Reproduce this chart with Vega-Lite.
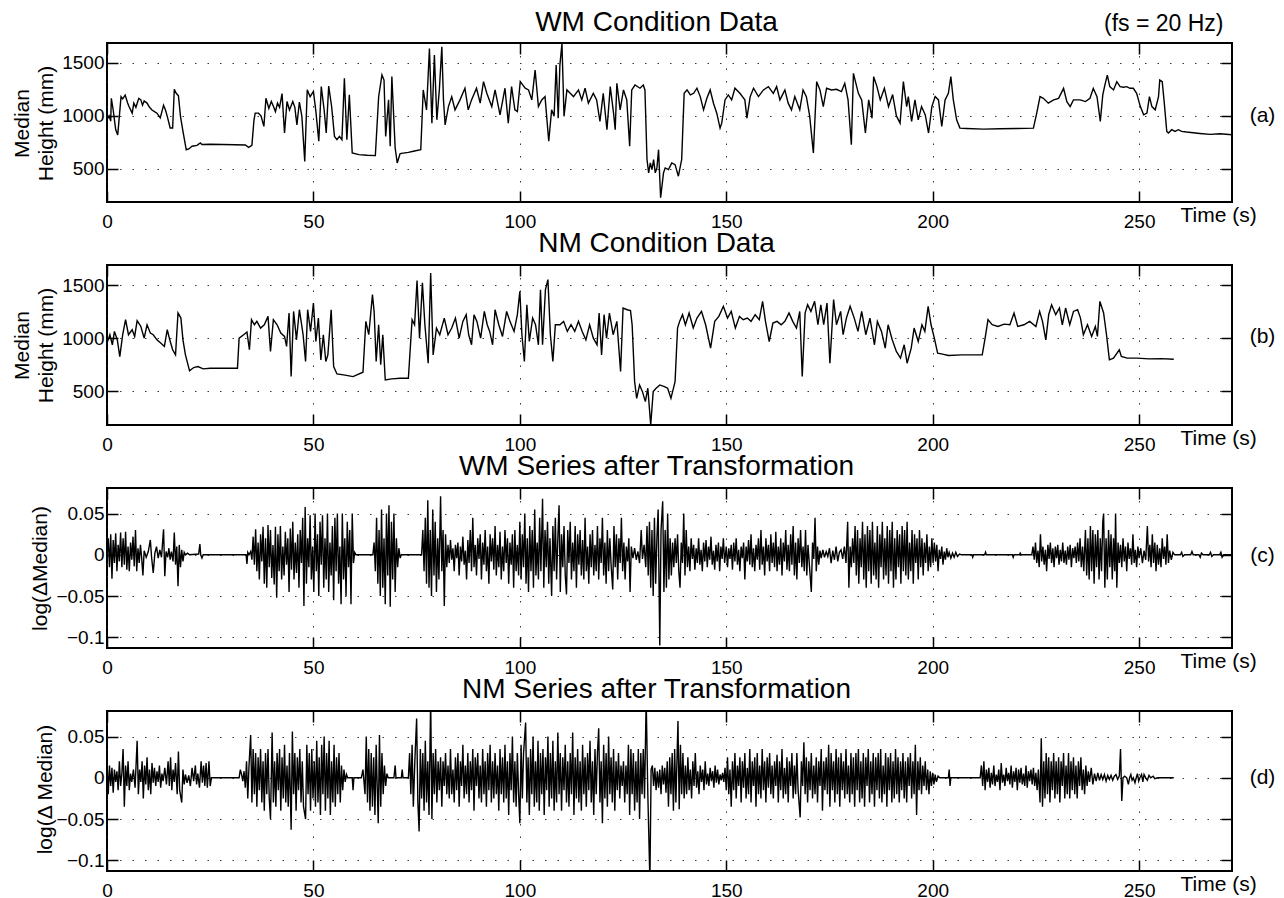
{
"$schema": "https://vega.github.io/schema/vega-lite/v6.json",
"padding": {"left": 9, "top": 8, "right": 5, "bottom": 5},
"spacing": 63,
"bounds": "flush",
"config": {
 "font": "Liberation Sans",
 "background": "white",
 "view": {"stroke": "black", "strokeWidth": 2},
 "axis": {"domain": false, "ticks": true, "tickSize": -11, "tickColor": "black", "tickWidth": 1.5, "labelColor": "black", "labelFontSize": 19, "titleColor": "black", "titleFontWeight": "normal", "gridColor": "#222", "gridDash": [1.5, 11], "gridWidth": 1, "gridOpacity": 0.9},
 "title": {"color": "black", "fontWeight": "normal", "fontSize": 28}
},
"datasets": {
"a": [{"t":0,"v":960},{"t":0.5,"v":1000},{"t":0.9,"v":950},{"t":1.05,"v":1165},{"t":1.5,"v":1055},{"t":2.1,"v":870},{"t":2.6,"v":820},{"t":3.4,"v":1180},{"t":3.8,"v":1160},{"t":4.4,"v":1195},{"t":5,"v":1120},{"t":5.3,"v":1090},{"t":6.1,"v":1025},{"t":6.5,"v":1120},{"t":7,"v":1080},{"t":7.7,"v":1165},{"t":8.2,"v":1150},{"t":8.6,"v":1100},{"t":9,"v":1140},{"t":9.7,"v":1120},{"t":10.3,"v":1080},{"t":10.9,"v":1055},{"t":11.5,"v":1040},{"t":12.1,"v":1025},{"t":12.9,"v":980},{"t":13.3,"v":1040},{"t":13.7,"v":1100},{"t":14.2,"v":1050},{"t":14.6,"v":995},{"t":15.3,"v":885},{"t":15.9,"v":885},{"t":16.3,"v":1250},{"t":16.8,"v":1210},{"t":17.3,"v":1190},{"t":17.8,"v":995},{"t":18.4,"v":853},{"t":19.2,"v":680},{"t":19.8,"v":688},{"t":20.6,"v":713},{"t":21.8,"v":722},{"t":22.6,"v":744},{"t":23,"v":730},{"t":25,"v":732},{"t":28,"v":730},{"t":31,"v":728},{"t":33.5,"v":725},{"t":34.3,"v":703},{"t":35.1,"v":722},{"t":35.6,"v":960},{"t":35.9,"v":1025},{"t":36.7,"v":1025},{"t":37.3,"v":1000},{"t":38,"v":900},{"t":38.5,"v":1165},{"t":39.2,"v":1070},{"t":39.8,"v":1135},{"t":40.3,"v":1090},{"t":40.8,"v":1040},{"t":41.3,"v":1120},{"t":41.8,"v":1080},{"t":42.4,"v":1210},{"t":43,"v":838},{"t":43.6,"v":1135},{"t":44.2,"v":1055},{"t":45,"v":1135},{"t":45.5,"v":1080},{"t":46,"v":915},{"t":46.6,"v":1130},{"t":47.2,"v":995},{"t":47.9,"v":570},{"t":48.5,"v":1245},{"t":49.2,"v":1180},{"t":50,"v":1230},{"t":50.6,"v":1040},{"t":51.3,"v":760},{"t":51.9,"v":1275},{"t":52.6,"v":1055},{"t":53.1,"v":838},{"t":53.7,"v":1280},{"t":54.4,"v":1090},{"t":55.1,"v":806},{"t":55.7,"v":775},{"t":56.3,"v":806},{"t":56.9,"v":775},{"t":57.5,"v":1353},{"t":58.1,"v":775},{"t":58.7,"v":1197},{"t":59.4,"v":650},{"t":61,"v":634},{"t":63,"v":628},{"t":65,"v":625},{"t":65.8,"v":1180},{"t":66.6,"v":1385},{"t":67.1,"v":1337},{"t":67.5,"v":806},{"t":68.2,"v":1150},{"t":68.6,"v":713},{"t":69,"v":1370},{"t":69.8,"v":697},{"t":70.3,"v":556},{"t":71,"v":644},{"t":73,"v":656},{"t":74.2,"v":666},{"t":76,"v":681},{"t":76.6,"v":1244},{"t":77.4,"v":1056},{"t":78.1,"v":1634},{"t":78.7,"v":931},{"t":79.3,"v":1572},{"t":79.9,"v":962},{"t":80.5,"v":1244},{"t":81.1,"v":1650},{"t":81.5,"v":1150},{"t":81.9,"v":915},{"t":82.7,"v":1087},{"t":83.5,"v":1180},{"t":84.3,"v":1056},{"t":85.5,"v":1150},{"t":86.7,"v":1260},{"t":87.5,"v":1056},{"t":88.3,"v":1150},{"t":89.5,"v":1260},{"t":90.4,"v":1119},{"t":91.2,"v":1322},{"t":92,"v":1212},{"t":93.2,"v":1087},{"t":94,"v":1244},{"t":95.2,"v":1009},{"t":96.4,"v":1260},{"t":97.2,"v":931},{"t":98,"v":1275},{"t":98.8,"v":1056},{"t":99.4,"v":1040},{"t":100.1,"v":1322},{"t":101.3,"v":1260},{"t":102.1,"v":1244},{"t":102.9,"v":1150},{"t":103.7,"v":1431},{"t":104.5,"v":1087},{"t":105.3,"v":1150},{"t":106.1,"v":1181},{"t":107,"v":760},{"t":107.7,"v":1056},{"t":108.3,"v":995},{"t":108.8,"v":1478},{"t":109.3,"v":978},{"t":109.7,"v":1478},{"t":110.2,"v":1681},{"t":110.7,"v":995},{"t":111.4,"v":1244},{"t":112.2,"v":1212},{"t":113,"v":1181},{"t":114.2,"v":1244},{"t":115,"v":1150},{"t":115.8,"v":1260},{"t":116.6,"v":1119},{"t":117.8,"v":1212},{"t":118.6,"v":1150},{"t":119.4,"v":947},{"t":120.2,"v":1212},{"t":121.1,"v":869},{"t":121.9,"v":1275},{"t":122.7,"v":1025},{"t":123.1,"v":869},{"t":123.5,"v":1306},{"t":124.3,"v":1056},{"t":125.1,"v":1244},{"t":125.9,"v":1150},{"t":126.6,"v":713},{"t":127.1,"v":1244},{"t":127.9,"v":1290},{"t":129.1,"v":1260},{"t":129.9,"v":1290},{"t":130.3,"v":1244},{"t":130.8,"v":588},{"t":131.2,"v":463},{"t":131.6,"v":556},{"t":132,"v":494},{"t":132.4,"v":588},{"t":132.8,"v":463},{"t":133.2,"v":509},{"t":133.6,"v":681},{"t":134.1,"v":228},{"t":134.8,"v":463},{"t":135.2,"v":509},{"t":136,"v":494},{"t":136.8,"v":556},{"t":137.6,"v":540},{"t":138.4,"v":431},{"t":139.2,"v":588},{"t":139.8,"v":1212},{"t":140.5,"v":1244},{"t":141.3,"v":1197},{"t":142.1,"v":1212},{"t":142.9,"v":1260},{"t":143.7,"v":1181},{"t":144.5,"v":1056},{"t":145.3,"v":1165},{"t":146.1,"v":1244},{"t":146.9,"v":1119},{"t":147.7,"v":1025},{"t":148.5,"v":884},{"t":148.9,"v":931},{"t":149.7,"v":1150},{"t":150.5,"v":1197},{"t":151.3,"v":1150},{"t":152.1,"v":1260},{"t":153.3,"v":1212},{"t":154.5,"v":1150},{"t":155,"v":978},{"t":155.8,"v":1181},{"t":156.6,"v":1260},{"t":157.8,"v":1181},{"t":159,"v":1244},{"t":160.2,"v":1275},{"t":161.4,"v":1212},{"t":162.2,"v":1275},{"t":163,"v":1150},{"t":164.2,"v":1244},{"t":165,"v":1119},{"t":165.8,"v":1056},{"t":166.6,"v":1181},{"t":167.8,"v":1056},{"t":168.6,"v":1244},{"t":169.4,"v":1181},{"t":170.2,"v":1000},{"t":171.1,"v":650},{"t":171.9,"v":1322},{"t":172.7,"v":1244},{"t":173.5,"v":1087},{"t":174.3,"v":1260},{"t":175.5,"v":1244},{"t":176.7,"v":1250},{"t":177.9,"v":1228},{"t":178.7,"v":1306},{"t":179.5,"v":1150},{"t":180.3,"v":728},{"t":180.8,"v":1400},{"t":182,"v":1212},{"t":182.8,"v":1150},{"t":183.7,"v":838},{"t":184.5,"v":1150},{"t":185.3,"v":978},{"t":185.7,"v":1369},{"t":186.5,"v":1275},{"t":187.3,"v":1150},{"t":188.3,"v":1260},{"t":189.3,"v":1087},{"t":190.3,"v":1200},{"t":191.2,"v":1000},{"t":192.1,"v":931},{"t":192.9,"v":1322},{"t":193.7,"v":1087},{"t":194.1,"v":1181},{"t":194.9,"v":947},{"t":195.7,"v":1150},{"t":196.5,"v":962},{"t":197.3,"v":1087},{"t":198.2,"v":1009},{"t":199,"v":838},{"t":199.8,"v":1087},{"t":200.6,"v":1181},{"t":201.4,"v":1150},{"t":202.2,"v":900},{"t":203,"v":1150},{"t":203.8,"v":1212},{"t":204.4,"v":1369},{"t":205,"v":1150},{"t":205.8,"v":962},{"t":206.6,"v":884},{"t":208.2,"v":881},{"t":212.3,"v":875},{"t":216.3,"v":878},{"t":220.4,"v":881},{"t":224.4,"v":884},{"t":225.2,"v":1025},{"t":226,"v":1181},{"t":226.8,"v":1165},{"t":228,"v":1119},{"t":229.3,"v":1150},{"t":230.5,"v":1165},{"t":231.7,"v":1259},{"t":232.5,"v":1134},{"t":233.3,"v":1087},{"t":234.1,"v":1150},{"t":235.7,"v":1150},{"t":237,"v":1134},{"t":238.1,"v":1165},{"t":238.9,"v":1259},{"t":239.8,"v":1181},{"t":240.6,"v":947},{"t":241.2,"v":1197},{"t":241.8,"v":1306},{"t":242.3,"v":1384},{"t":242.9,"v":1275},{"t":243.8,"v":1244},{"t":244.6,"v":1322},{"t":245.4,"v":1275},{"t":246.2,"v":1269},{"t":247,"v":1275},{"t":247.8,"v":1259},{"t":248.6,"v":1259},{"t":249.4,"v":1212},{"t":250.3,"v":1087},{"t":251.1,"v":1009},{"t":251.9,"v":1025},{"t":252.5,"v":1181},{"t":253.1,"v":1087},{"t":253.9,"v":1056},{"t":254.7,"v":1181},{"t":255,"v":1337},{"t":255.6,"v":1322},{"t":256.1,"v":1119},{"t":256.7,"v":853},{"t":257.1,"v":838},{"t":257.9,"v":869},{"t":258.7,"v":853},{"t":259.5,"v":869},{"t":260.3,"v":853},{"t":261.5,"v":847},{"t":263.1,"v":841},{"t":264.7,"v":834},{"t":267.2,"v":825},{"t":269.6,"v":831},{"t":272.5,"v":822}],
"b": [{"t":0,"v":953},{"t":0.7,"v":1032},{"t":1.3,"v":937},{"t":1.8,"v":1063},{"t":2.5,"v":984},{"t":3.1,"v":826},{"t":3.8,"v":1032},{"t":4.5,"v":1174},{"t":5.2,"v":1032},{"t":6.1,"v":1079},{"t":6.7,"v":1016},{"t":7.3,"v":1164},{"t":8.2,"v":1110},{"t":9,"v":1000},{"t":9.7,"v":1126},{"t":10.5,"v":1048},{"t":11.2,"v":1032},{"t":12.1,"v":984},{"t":13,"v":953},{"t":13.9,"v":921},{"t":14.6,"v":1079},{"t":15.2,"v":984},{"t":15.9,"v":890},{"t":16.6,"v":842},{"t":17.2,"v":1237},{"t":17.9,"v":1189},{"t":18.4,"v":984},{"t":19,"v":842},{"t":20,"v":691},{"t":21,"v":722},{"t":22,"v":732},{"t":23.3,"v":710},{"t":25,"v":716},{"t":28,"v":716},{"t":31.6,"v":716},{"t":32,"v":1000},{"t":33.1,"v":1032},{"t":33.9,"v":1057},{"t":34.5,"v":890},{"t":35,"v":1174},{"t":35.7,"v":1126},{"t":36.3,"v":1158},{"t":37.2,"v":1095},{"t":38.1,"v":1126},{"t":39,"v":1205},{"t":39.6,"v":874},{"t":40.3,"v":1174},{"t":41.2,"v":1126},{"t":42.1,"v":1048},{"t":43,"v":1016},{"t":43.5,"v":921},{"t":44.1,"v":1237},{"t":44.6,"v":637},{"t":45.2,"v":1252},{"t":45.9,"v":984},{"t":46.6,"v":1268},{"t":47.5,"v":1032},{"t":48.1,"v":779},{"t":48.6,"v":1268},{"t":49.3,"v":1063},{"t":50,"v":1331},{"t":50.6,"v":968},{"t":51.2,"v":1189},{"t":51.8,"v":795},{"t":52.4,"v":1032},{"t":53,"v":779},{"t":53.5,"v":842},{"t":54.3,"v":1268},{"t":54.9,"v":732},{"t":55.7,"v":662},{"t":57.3,"v":653},{"t":59.6,"v":637},{"t":62,"v":678},{"t":62.7,"v":1158},{"t":63.4,"v":1032},{"t":64.3,"v":1410},{"t":64.7,"v":1252},{"t":65.2,"v":779},{"t":65.8,"v":1126},{"t":66.3,"v":748},{"t":66.8,"v":1032},{"t":67.4,"v":606},{"t":69,"v":615},{"t":71,"v":621},{"t":73,"v":621},{"t":73.9,"v":1174},{"t":74.5,"v":1126},{"t":75.1,"v":1543},{"t":75.7,"v":1000},{"t":76.4,"v":1521},{"t":77,"v":1126},{"t":77.8,"v":763},{"t":78.4,"v":1615},{"t":79,"v":842},{"t":79.8,"v":1095},{"t":80.6,"v":1032},{"t":81.7,"v":1189},{"t":82.6,"v":1032},{"t":83.5,"v":1095},{"t":84.4,"v":1189},{"t":85.3,"v":1000},{"t":86.2,"v":1158},{"t":87,"v":1221},{"t":87.6,"v":1032},{"t":88.3,"v":937},{"t":88.9,"v":1221},{"t":89.6,"v":1158},{"t":90.5,"v":1000},{"t":91.4,"v":1252},{"t":92.1,"v":1126},{"t":92.7,"v":1063},{"t":93.4,"v":937},{"t":94,"v":1268},{"t":94.9,"v":1126},{"t":95.8,"v":1016},{"t":96.8,"v":1252},{"t":97.6,"v":1158},{"t":98.6,"v":1063},{"t":99.4,"v":1221},{"t":100,"v":1442},{"t":100.5,"v":1032},{"t":101.1,"v":779},{"t":101.7,"v":1315},{"t":102.3,"v":968},{"t":103.1,"v":1189},{"t":103.8,"v":1126},{"t":104.5,"v":937},{"t":105,"v":1457},{"t":105.5,"v":937},{"t":106.2,"v":1457},{"t":106.8,"v":1552},{"t":107.4,"v":1032},{"t":108,"v":779},{"t":108.6,"v":1126},{"t":109.7,"v":1126},{"t":110.6,"v":1158},{"t":111.5,"v":1063},{"t":112.4,"v":1126},{"t":113.3,"v":1063},{"t":114.2,"v":1158},{"t":115.1,"v":1063},{"t":116,"v":984},{"t":116.9,"v":1126},{"t":117.8,"v":1000},{"t":118.7,"v":937},{"t":119.2,"v":1237},{"t":119.8,"v":842},{"t":120.4,"v":1221},{"t":121,"v":1000},{"t":121.7,"v":1237},{"t":122.6,"v":1032},{"t":123.5,"v":1158},{"t":124.4,"v":685},{"t":125,"v":1284},{"t":126,"v":1268},{"t":126.8,"v":1260},{"t":127.2,"v":1126},{"t":127.8,"v":590},{"t":128.3,"v":432},{"t":129,"v":558},{"t":129.7,"v":495},{"t":130.4,"v":401},{"t":131,"v":527},{"t":131.7,"v":180},{"t":132.3,"v":495},{"t":133,"v":527},{"t":133.9,"v":558},{"t":135,"v":543},{"t":135.8,"v":527},{"t":136.6,"v":432},{"t":137.6,"v":590},{"t":138.2,"v":1095},{"t":138.7,"v":1158},{"t":139.4,"v":1221},{"t":140.1,"v":1126},{"t":141,"v":1237},{"t":142,"v":1095},{"t":142.9,"v":1189},{"t":144,"v":1252},{"t":145,"v":1126},{"t":146.2,"v":905},{"t":147.2,"v":1158},{"t":148.2,"v":1205},{"t":149.3,"v":1300},{"t":150.3,"v":1189},{"t":151.2,"v":1252},{"t":152.2,"v":1095},{"t":153.2,"v":1205},{"t":154.1,"v":1174},{"t":155.1,"v":1189},{"t":156,"v":1158},{"t":157,"v":1221},{"t":158,"v":1174},{"t":158.8,"v":1347},{"t":159.5,"v":1158},{"t":160.4,"v":968},{"t":161.3,"v":1142},{"t":162.3,"v":1158},{"t":163.3,"v":1126},{"t":164.2,"v":1158},{"t":165.2,"v":1237},{"t":166.1,"v":1158},{"t":167,"v":1095},{"t":167.8,"v":1252},{"t":168.4,"v":637},{"t":169.1,"v":1237},{"t":169.7,"v":1315},{"t":170.5,"v":1252},{"t":171.4,"v":1347},{"t":172.2,"v":1126},{"t":172.9,"v":1315},{"t":173.6,"v":1126},{"t":174.4,"v":1331},{"t":175.1,"v":763},{"t":176,"v":1363},{"t":176.7,"v":1126},{"t":177.7,"v":1252},{"t":178.3,"v":1032},{"t":179.1,"v":1189},{"t":180,"v":1300},{"t":181,"v":1189},{"t":181.9,"v":1063},{"t":182.8,"v":1252},{"t":183.8,"v":1032},{"t":184.8,"v":1189},{"t":185.9,"v":937},{"t":186.6,"v":1158},{"t":187.6,"v":1063},{"t":188.5,"v":905},{"t":189.2,"v":1126},{"t":190.2,"v":984},{"t":191.2,"v":874},{"t":192.2,"v":811},{"t":193.1,"v":937},{"t":193.8,"v":763},{"t":194.8,"v":905},{"t":195.5,"v":1095},{"t":196.5,"v":968},{"t":197.4,"v":1126},{"t":198.1,"v":1063},{"t":198.9,"v":1300},{"t":199.6,"v":1126},{"t":200.4,"v":1000},{"t":201.2,"v":858},{"t":202.4,"v":849},{"t":203.8,"v":836},{"t":207,"v":842},{"t":212,"v":842},{"t":212.7,"v":1000},{"t":213.4,"v":1174},{"t":214.4,"v":1126},{"t":215.8,"v":1110},{"t":217.3,"v":1132},{"t":218.7,"v":1126},{"t":219.7,"v":1237},{"t":220.6,"v":1110},{"t":222.1,"v":1126},{"t":223.5,"v":1158},{"t":225,"v":1110},{"t":225.9,"v":1252},{"t":226.6,"v":1158},{"t":227.4,"v":984},{"t":228.1,"v":1221},{"t":228.8,"v":1315},{"t":229.8,"v":1221},{"t":230.7,"v":1284},{"t":231.4,"v":1126},{"t":232.2,"v":1284},{"t":233.2,"v":1126},{"t":234.1,"v":1252},{"t":235.1,"v":1268},{"t":235.8,"v":1189},{"t":236.5,"v":1032},{"t":237.5,"v":1126},{"t":238.5,"v":1016},{"t":239.4,"v":1110},{"t":239.9,"v":1016},{"t":240.5,"v":1347},{"t":241.4,"v":1237},{"t":242.1,"v":1032},{"t":242.8,"v":795},{"t":243.8,"v":811},{"t":245.2,"v":890},{"t":245.7,"v":827},{"t":247.1,"v":811},{"t":249.5,"v":811},{"t":252.4,"v":804},{"t":255.4,"v":806},{"t":258.4,"v":801}],
"c": [{"t":0,"v":0},{"t":0.3,"v":0.02},{"t":0.6,"v":-0.015},{"t":0.9,"v":0.025},{"t":1.2,"v":-0.029},{"t":1.5,"v":0.018},{"t":1.8,"v":-0.01},{"t":2.1,"v":0.026},{"t":2.4,"v":-0.02},{"t":2.7,"v":0.012},{"t":3,"v":-0.008},{"t":3.3,"v":0.027},{"t":3.6,"v":-0.015},{"t":3.9,"v":0.02},{"t":4.2,"v":-0.012},{"t":4.5,"v":0.028},{"t":4.8,"v":-0.018},{"t":5.1,"v":0.01},{"t":5.4,"v":-0.02},{"t":5.7,"v":0.015},{"t":6,"v":-0.006},{"t":6.3,"v":0.022},{"t":6.6,"v":-0.014},{"t":6.9,"v":0.03},{"t":7.2,"v":-0.02},{"t":7.5,"v":0.008},{"t":7.8,"v":-0.01},{"t":8.1,"v":0.012},{"t":8.4,"v":-0.004},{"t":8.7,"v":-0.025},{"t":9,"v":0.005},{"t":9.5,"v":-0.003},{"t":10,"v":0.004},{"t":10.5,"v":0.018},{"t":10.8,"v":-0.003},{"t":11.2,"v":-0.022},{"t":11.6,"v":0.002},{"t":12,"v":0.01},{"t":12.4,"v":-0.004},{"t":12.8,"v":0.006},{"t":13.2,"v":-0.003},{"t":13.7,"v":0.031},{"t":14,"v":-0.026},{"t":14.3,"v":0.004},{"t":14.7,"v":-0.003},{"t":15,"v":0.008},{"t":15.3,"v":-0.006},{"t":15.6,"v":0.004},{"t":16,"v":-0.008},{"t":16.3,"v":0.027},{"t":16.6,"v":-0.012},{"t":16.9,"v":0.01},{"t":17.2,"v":-0.038},{"t":17.5,"v":0.012},{"t":17.8,"v":-0.015},{"t":18.1,"v":0.006},{"t":18.4,"v":-0.008},{"t":18.7,"v":0.003},{"t":19,"v":0},{"t":19.5,"v":0.002},{"t":20,"v":0},{"t":22.2,"v":0.001},{"t":22.5,"v":0.013},{"t":22.7,"v":0},{"t":23,"v":-0.004},{"t":23.3,"v":0},{"t":33.7,"v":0},{"t":33.9,"v":-0.011},{"t":34.1,"v":0.003},{"t":34.4,"v":0},{"t":34.8,"v":0.004},{"t":35.1,"v":-0.006},{"t":35.4,"v":0.022},{"t":35.7,"v":-0.012},{"t":36,"v":0.031},{"t":36.3,"v":-0.02},{"t":36.6,"v":0.015},{"t":36.9,"v":-0.03},{"t":37.2,"v":0.025},{"t":37.5,"v":-0.008},{"t":37.8,"v":0.034},{"t":38.1,"v":-0.035},{"t":38.4,"v":0.02},{"t":38.7,"v":-0.04},{"t":39,"v":0.036},{"t":39.3,"v":-0.015},{"t":39.6,"v":0.03},{"t":39.9,"v":-0.028},{"t":40.2,"v":0.012},{"t":40.5,"v":-0.036},{"t":40.8,"v":0.034},{"t":41.1,"v":-0.052},{"t":41.4,"v":0.025},{"t":41.7,"v":-0.02},{"t":42,"v":0.035},{"t":42.3,"v":-0.03},{"t":42.6,"v":0.01},{"t":42.9,"v":-0.025},{"t":43.2,"v":0.028},{"t":43.5,"v":-0.012},{"t":43.8,"v":0.02},{"t":44.1,"v":-0.045},{"t":44.4,"v":0.032},{"t":44.7,"v":-0.018},{"t":45,"v":0.04},{"t":45.3,"v":-0.03},{"t":45.6,"v":0.015},{"t":45.9,"v":-0.022},{"t":46.2,"v":0.025},{"t":46.5,"v":-0.04},{"t":46.8,"v":0.03},{"t":47.1,"v":-0.01},{"t":47.4,"v":0.045},{"t":47.7,"v":-0.062},{"t":48,"v":0.058},{"t":48.3,"v":-0.035},{"t":48.6,"v":0.02},{"t":48.9,"v":-0.015},{"t":49.2,"v":0.048},{"t":49.5,"v":-0.03},{"t":49.8,"v":0.01},{"t":50.1,"v":-0.045},{"t":50.4,"v":0.05},{"t":50.7,"v":-0.02},{"t":51,"v":0.025},{"t":51.3,"v":-0.05},{"t":51.6,"v":0.04},{"t":51.9,"v":-0.012},{"t":52.2,"v":0.048},{"t":52.5,"v":-0.04},{"t":52.8,"v":0.02},{"t":53.1,"v":-0.03},{"t":53.4,"v":0.05},{"t":53.7,"v":-0.045},{"t":54,"v":0.015},{"t":54.3,"v":-0.025},{"t":54.6,"v":0.035},{"t":54.9,"v":-0.055},{"t":55.2,"v":0.045},{"t":55.5,"v":-0.02},{"t":55.8,"v":0.05},{"t":56.1,"v":-0.035},{"t":56.4,"v":0.01},{"t":56.7,"v":-0.06},{"t":57,"v":0.05},{"t":57.3,"v":-0.03},{"t":57.6,"v":0.02},{"t":57.9,"v":-0.05},{"t":58.2,"v":0.04},{"t":58.5,"v":-0.015},{"t":58.8,"v":0.03},{"t":59.1,"v":-0.06},{"t":59.4,"v":0.05},{"t":59.7,"v":-0.01},{"t":60,"v":0.003},{"t":60.3,"v":0},{"t":64.4,"v":0},{"t":64.7,"v":0.015},{"t":65,"v":-0.02},{"t":65.3,"v":0.045},{"t":65.6,"v":-0.035},{"t":65.9,"v":0.03},{"t":66.2,"v":-0.05},{"t":66.5,"v":0.055},{"t":66.8,"v":-0.04},{"t":67.1,"v":0.02},{"t":67.4,"v":-0.06},{"t":67.7,"v":0.05},{"t":68,"v":-0.025},{"t":68.3,"v":0.06},{"t":68.6,"v":-0.063},{"t":68.9,"v":0.04},{"t":69.2,"v":-0.03},{"t":69.5,"v":0.05},{"t":69.8,"v":-0.045},{"t":70.1,"v":0.02},{"t":70.4,"v":-0.015},{"t":70.7,"v":0.008},{"t":71,"v":-0.004},{"t":71.3,"v":0},{"t":76.2,"v":0},{"t":76.5,"v":0.03},{"t":76.8,"v":-0.02},{"t":77.1,"v":0.045},{"t":77.4,"v":-0.035},{"t":77.7,"v":0.066},{"t":78,"v":-0.04},{"t":78.3,"v":0.03},{"t":78.6,"v":-0.05},{"t":78.9,"v":0.055},{"t":79.2,"v":-0.025},{"t":79.5,"v":0.04},{"t":79.8,"v":-0.045},{"t":80.1,"v":0.02},{"t":80.4,"v":-0.03},{"t":80.8,"v":0.071},{"t":81.1,"v":-0.02},{"t":81.4,"v":0.03},{"t":81.7,"v":-0.062},{"t":82,"v":0.025},{"t":82.3,"v":-0.015},{"t":82.6,"v":0.012},{"t":82.9,"v":-0.01},{"t":83.2,"v":0.018},{"t":83.5,"v":-0.006},{"t":83.8,"v":0.008},{"t":84.1,"v":-0.02},{"t":84.4,"v":0.012},{"t":84.7,"v":-0.004},{"t":85,"v":0.015},{"t":85.3,"v":-0.025},{"t":85.6,"v":0.01},{"t":85.9,"v":-0.008},{"t":86.2,"v":0.022},{"t":86.5,"v":-0.012},{"t":86.8,"v":0.005},{"t":87.1,"v":-0.03},{"t":87.4,"v":0.018},{"t":87.7,"v":-0.01},{"t":88,"v":0.03},{"t":88.3,"v":-0.02},{"t":88.6,"v":0.045},{"t":88.9,"v":-0.015},{"t":89.2,"v":0.012},{"t":89.5,"v":-0.025},{"t":89.8,"v":0.02},{"t":90.1,"v":-0.005},{"t":90.4,"v":0.025},{"t":90.7,"v":-0.03},{"t":91,"v":0.015},{"t":91.3,"v":-0.012},{"t":91.6,"v":0.03},{"t":91.9,"v":-0.02},{"t":92.2,"v":0.01},{"t":92.5,"v":-0.035},{"t":92.8,"v":0.025},{"t":93.1,"v":-0.008},{"t":93.4,"v":0.02},{"t":93.7,"v":-0.018},{"t":94,"v":0.035},{"t":94.3,"v":-0.025},{"t":94.6,"v":0.012},{"t":94.9,"v":-0.015},{"t":95.2,"v":0.028},{"t":95.5,"v":-0.03},{"t":95.8,"v":0.01},{"t":96.1,"v":-0.02},{"t":96.4,"v":0.03},{"t":96.7,"v":-0.01},{"t":97,"v":0.02},{"t":97.3,"v":-0.035},{"t":97.6,"v":0.015},{"t":97.9,"v":-0.012},{"t":98.2,"v":0.025},{"t":98.5,"v":-0.04},{"t":98.8,"v":0.03},{"t":99.1,"v":-0.02},{"t":99.4,"v":0.012},{"t":99.7,"v":-0.025},{"t":100,"v":0.04},{"t":100.3,"v":-0.03},{"t":100.6,"v":0.025},{"t":100.9,"v":-0.015},{"t":101.2,"v":0.05},{"t":101.5,"v":-0.035},{"t":101.8,"v":0.02},{"t":102.1,"v":-0.045},{"t":102.4,"v":0.035},{"t":102.7,"v":-0.02},{"t":103,"v":0.03},{"t":103.3,"v":-0.04},{"t":103.6,"v":0.055},{"t":103.9,"v":-0.025},{"t":104.2,"v":0.015},{"t":104.5,"v":-0.03},{"t":104.8,"v":0.045},{"t":105.1,"v":-0.02},{"t":105.5,"v":0.068},{"t":105.8,"v":-0.04},{"t":106.1,"v":0.03},{"t":106.4,"v":-0.015},{"t":106.7,"v":0.04},{"t":107,"v":-0.035},{"t":107.3,"v":0.02},{"t":107.7,"v":-0.05},{"t":108,"v":0.035},{"t":108.3,"v":-0.02},{"t":108.6,"v":0.045},{"t":108.9,"v":-0.03},{"t":109.2,"v":0.02},{"t":109.5,"v":0.06},{"t":109.8,"v":-0.045},{"t":110.1,"v":0.025},{"t":110.4,"v":-0.015},{"t":110.7,"v":0.035},{"t":111,"v":-0.025},{"t":111.3,"v":-0.048},{"t":111.6,"v":0.03},{"t":111.9,"v":-0.01},{"t":112.2,"v":0.04},{"t":112.5,"v":-0.03},{"t":112.8,"v":0.015},{"t":113.1,"v":-0.02},{"t":113.4,"v":0.035},{"t":113.7,"v":-0.04},{"t":114,"v":0.025},{"t":114.3,"v":-0.012},{"t":114.6,"v":0.03},{"t":114.9,"v":-0.025},{"t":115.2,"v":0.018},{"t":115.5,"v":-0.03},{"t":115.8,"v":0.045},{"t":116.1,"v":-0.02},{"t":116.4,"v":0.01},{"t":116.7,"v":-0.035},{"t":117,"v":0.025},{"t":117.3,"v":-0.015},{"t":117.6,"v":0.03},{"t":117.9,"v":-0.025},{"t":118.2,"v":0.012},{"t":118.5,"v":-0.02},{"t":118.8,"v":0.035},{"t":119.1,"v":-0.03},{"t":119.4,"v":0.02},{"t":119.7,"v":-0.01},{"t":120,"v":0.045},{"t":120.3,"v":-0.025},{"t":120.6,"v":0.015},{"t":120.9,"v":-0.035},{"t":121.2,"v":0.03},{"t":121.5,"v":-0.02},{"t":121.8,"v":0.02},{"t":122.1,"v":-0.012},{"t":122.5,"v":-0.042},{"t":122.8,"v":0.035},{"t":123.1,"v":-0.015},{"t":123.4,"v":0.025},{"t":123.7,"v":-0.03},{"t":124,"v":0.02},{"t":124.3,"v":-0.01},{"t":124.6,"v":0.045},{"t":124.9,"v":-0.02},{"t":125.2,"v":0.015},{"t":125.5,"v":-0.03},{"t":125.8,"v":0.01},{"t":126.1,"v":-0.008},{"t":126.4,"v":0.02},{"t":126.7,"v":-0.045},{"t":127,"v":0.01},{"t":127.4,"v":-0.004},{"t":127.8,"v":0.008},{"t":128.2,"v":-0.006},{"t":128.6,"v":0.004},{"t":129,"v":-0.01},{"t":129.4,"v":0.03},{"t":129.7,"v":-0.005},{"t":130.1,"v":0.012},{"t":130.5,"v":-0.015},{"t":130.8,"v":0.035},{"t":131.1,"v":-0.025},{"t":131.4,"v":0.04},{"t":131.7,"v":-0.04},{"t":132,"v":0.03},{"t":132.3,"v":-0.05},{"t":132.6,"v":0.045},{"t":132.9,"v":-0.035},{"t":133.2,"v":0.02},{"t":133.5,"v":0.055},{"t":133.9,"v":-0.11},{"t":134.2,"v":0.03},{"t":134.6,"v":0.065},{"t":134.9,"v":-0.045},{"t":135.2,"v":0.03},{"t":135.5,"v":-0.04},{"t":135.8,"v":0.05},{"t":136.1,"v":-0.03},{"t":136.4,"v":0.02},{"t":136.7,"v":-0.025},{"t":137,"v":0.015},{"t":137.3,"v":-0.015},{"t":137.6,"v":0.02},{"t":137.9,"v":-0.01},{"t":138.2,"v":0.025},{"t":138.5,"v":-0.02},{"t":138.8,"v":-0.04},{"t":139.1,"v":0.015},{"t":139.4,"v":-0.01},{"t":139.7,"v":0.05},{"t":140,"v":-0.025},{"t":140.3,"v":0.03},{"t":140.6,"v":-0.015},{"t":140.9,"v":0.01},{"t":141.2,"v":-0.02},{"t":141.5,"v":0.02},{"t":141.8,"v":-0.005},{"t":142.1,"v":0.012},{"t":142.4,"v":-0.018},{"t":142.7,"v":0.008},{"t":143,"v":-0.01},{"t":143.3,"v":0.02},{"t":143.6,"v":-0.012},{"t":143.9,"v":0.006},{"t":144.2,"v":-0.02},{"t":144.5,"v":0.015},{"t":144.8,"v":-0.008},{"t":145.1,"v":0.018},{"t":145.4,"v":-0.015},{"t":145.7,"v":0.01},{"t":146,"v":-0.006},{"t":146.3,"v":0.022},{"t":146.6,"v":-0.012},{"t":146.9,"v":0.005},{"t":147.2,"v":-0.018},{"t":147.5,"v":0.012},{"t":147.8,"v":-0.008},{"t":148.1,"v":0.015},{"t":148.4,"v":-0.02},{"t":148.7,"v":0.01},{"t":149,"v":-0.005},{"t":149.3,"v":0.02},{"t":149.6,"v":-0.01},{"t":150,"v":0.01},{"t":150.3,"v":-0.015},{"t":150.6,"v":0.008},{"t":150.9,"v":-0.005},{"t":151.2,"v":0.012},{"t":151.5,"v":-0.018},{"t":151.8,"v":0.015},{"t":152.1,"v":-0.008},{"t":152.4,"v":0.02},{"t":152.7,"v":-0.012},{"t":153,"v":0.006},{"t":153.3,"v":-0.02},{"t":153.6,"v":0.01},{"t":153.9,"v":-0.004},{"t":154.2,"v":0.015},{"t":154.5,"v":-0.03},{"t":154.8,"v":0.01},{"t":155.1,"v":-0.008},{"t":155.4,"v":0.018},{"t":155.7,"v":-0.012},{"t":156,"v":0.025},{"t":156.3,"v":-0.015},{"t":156.6,"v":0.008},{"t":156.9,"v":-0.02},{"t":157.2,"v":0.012},{"t":157.5,"v":-0.006},{"t":157.8,"v":0.02},{"t":158.1,"v":-0.018},{"t":158.4,"v":0.03},{"t":158.7,"v":-0.012},{"t":159,"v":0.01},{"t":159.3,"v":-0.025},{"t":159.6,"v":0.02},{"t":159.9,"v":-0.008},{"t":160.2,"v":0.012},{"t":160.5,"v":-0.02},{"t":160.8,"v":0.025},{"t":161.1,"v":-0.01},{"t":161.4,"v":0.015},{"t":161.7,"v":-0.015},{"t":162,"v":0.028},{"t":162.3,"v":-0.02},{"t":162.6,"v":0.01},{"t":162.9,"v":-0.012},{"t":163.2,"v":0.02},{"t":163.5,"v":-0.025},{"t":163.8,"v":0.015},{"t":164.1,"v":-0.008},{"t":164.4,"v":0.03},{"t":164.7,"v":-0.018},{"t":165,"v":0.012},{"t":165.3,"v":-0.02},{"t":165.6,"v":0.025},{"t":165.9,"v":-0.012},{"t":166.2,"v":0.035},{"t":166.5,"v":-0.025},{"t":166.8,"v":0.015},{"t":167.1,"v":-0.03},{"t":167.4,"v":0.02},{"t":167.7,"v":-0.01},{"t":168,"v":0.03},{"t":168.3,"v":-0.015},{"t":168.6,"v":0.01},{"t":168.9,"v":-0.02},{"t":169.2,"v":0.03},{"t":169.5,"v":-0.025},{"t":169.8,"v":0.012},{"t":170.1,"v":-0.01},{"t":170.6,"v":-0.045},{"t":170.9,"v":0.015},{"t":171.2,"v":-0.005},{"t":171.5,"v":0.045},{"t":171.8,"v":-0.02},{"t":172.1,"v":0.01},{"t":172.4,"v":-0.012},{"t":172.7,"v":0.005},{"t":173,"v":-0.004},{"t":173.4,"v":0.006},{"t":173.8,"v":-0.003},{"t":174.2,"v":0.004},{"t":174.6,"v":-0.002},{"t":175,"v":0.008},{"t":175.4,"v":-0.01},{"t":175.8,"v":0.005},{"t":176.2,"v":-0.006},{"t":176.6,"v":0.01},{"t":177,"v":-0.008},{"t":177.4,"v":0.003},{"t":177.8,"v":0.006},{"t":178.2,"v":-0.005},{"t":178.6,"v":0.01},{"t":179,"v":-0.01},{"t":179.4,"v":0.04},{"t":179.7,"v":-0.04},{"t":180,"v":0.01},{"t":180.3,"v":-0.015},{"t":180.6,"v":0.02},{"t":180.9,"v":-0.01},{"t":181.2,"v":0.035},{"t":181.5,"v":-0.025},{"t":181.8,"v":0.03},{"t":182.1,"v":-0.035},{"t":182.4,"v":0.02},{"t":182.7,"v":-0.015},{"t":183,"v":0.04},{"t":183.3,"v":-0.03},{"t":183.6,"v":0.025},{"t":183.9,"v":-0.04},{"t":184.2,"v":0.035},{"t":184.5,"v":-0.02},{"t":184.8,"v":0.03},{"t":185.1,"v":-0.035},{"t":185.4,"v":0.04},{"t":185.7,"v":-0.025},{"t":186,"v":0.015},{"t":186.3,"v":-0.03},{"t":186.6,"v":0.035},{"t":186.9,"v":-0.04},{"t":187.2,"v":0.025},{"t":187.5,"v":-0.015},{"t":187.8,"v":0.04},{"t":188.1,"v":-0.03},{"t":188.4,"v":0.02},{"t":188.7,"v":-0.025},{"t":189,"v":0.035},{"t":189.3,"v":-0.035},{"t":189.6,"v":0.03},{"t":189.9,"v":-0.02},{"t":190.2,"v":0.04},{"t":190.5,"v":-0.04},{"t":190.8,"v":0.02},{"t":191.1,"v":-0.03},{"t":191.4,"v":0.03},{"t":191.7,"v":-0.015},{"t":192,"v":0.025},{"t":192.3,"v":-0.035},{"t":192.6,"v":0.035},{"t":192.9,"v":-0.02},{"t":193.2,"v":0.03},{"t":193.5,"v":-0.025},{"t":193.8,"v":0.04},{"t":194.1,"v":-0.03},{"t":194.4,"v":0.015},{"t":194.7,"v":-0.02},{"t":195,"v":0.03},{"t":195.3,"v":-0.035},{"t":195.6,"v":0.025},{"t":195.9,"v":-0.01},{"t":196.2,"v":0.02},{"t":196.5,"v":-0.03},{"t":196.8,"v":0.03},{"t":197.1,"v":-0.015},{"t":197.4,"v":0.02},{"t":197.7,"v":-0.025},{"t":198,"v":0.015},{"t":198.3,"v":-0.01},{"t":198.6,"v":0.025},{"t":198.9,"v":-0.02},{"t":199.2,"v":0.01},{"t":199.5,"v":-0.015},{"t":199.8,"v":0.02},{"t":200.1,"v":-0.01},{"t":200.4,"v":0.015},{"t":200.7,"v":-0.008},{"t":201,"v":0.012},{"t":201.3,"v":-0.02},{"t":201.6,"v":0.006},{"t":201.9,"v":-0.005},{"t":202.2,"v":0.01},{"t":202.5,"v":-0.012},{"t":202.8,"v":0.004},{"t":203.1,"v":-0.006},{"t":203.4,"v":0.008},{"t":203.7,"v":-0.003},{"t":204,"v":0.003},{"t":204.4,"v":-0.004},{"t":204.8,"v":0.002},{"t":205.2,"v":-0.003},{"t":205.6,"v":0.003},{"t":206,"v":-0.002},{"t":206.5,"v":0.001},{"t":207,"v":0},{"t":209.5,"v":0},{"t":209.7,"v":-0.003},{"t":209.9,"v":0},{"t":212.6,"v":0},{"t":212.8,"v":0.003},{"t":213,"v":0},{"t":219.3,"v":0},{"t":219.5,"v":-0.003},{"t":219.7,"v":0},{"t":221,"v":0},{"t":221.2,"v":0.002},{"t":221.4,"v":0},{"t":224,"v":0},{"t":224.3,"v":0.01},{"t":224.6,"v":-0.006},{"t":224.9,"v":0.015},{"t":225.2,"v":-0.01},{"t":225.5,"v":0.005},{"t":225.8,"v":-0.015},{"t":226.1,"v":0.025},{"t":226.4,"v":-0.008},{"t":226.7,"v":0.01},{"t":227,"v":-0.012},{"t":227.3,"v":0.006},{"t":227.6,"v":-0.02},{"t":227.9,"v":0.012},{"t":228.2,"v":-0.005},{"t":228.5,"v":0.015},{"t":228.8,"v":-0.01},{"t":229.1,"v":0.008},{"t":229.4,"v":-0.015},{"t":229.7,"v":0.01},{"t":230,"v":-0.004},{"t":230.3,"v":0.012},{"t":230.6,"v":-0.012},{"t":230.9,"v":0.006},{"t":231.2,"v":-0.008},{"t":231.5,"v":0.015},{"t":231.8,"v":-0.01},{"t":232.1,"v":0.005},{"t":232.4,"v":-0.012},{"t":232.7,"v":0.01},{"t":233,"v":-0.006},{"t":233.3,"v":0.012},{"t":233.6,"v":-0.015},{"t":233.9,"v":0.008},{"t":234.2,"v":-0.004},{"t":234.5,"v":0.01},{"t":234.8,"v":-0.01},{"t":235.1,"v":0.015},{"t":235.4,"v":-0.008},{"t":235.7,"v":0.02},{"t":236,"v":-0.015},{"t":236.3,"v":0.01},{"t":236.6,"v":-0.02},{"t":237,"v":0.03},{"t":237.3,"v":-0.025},{"t":237.6,"v":0.02},{"t":237.9,"v":-0.03},{"t":238.2,"v":0.035},{"t":238.5,"v":-0.02},{"t":238.8,"v":0.03},{"t":239.1,"v":-0.035},{"t":239.4,"v":0.025},{"t":239.7,"v":-0.015},{"t":240,"v":0.03},{"t":240.3,"v":-0.03},{"t":240.6,"v":0.02},{"t":240.9,"v":-0.02},{"t":241.2,"v":0.04},{"t":241.4,"v":0.05},{"t":241.7,"v":-0.04},{"t":242,"v":0.02},{"t":242.3,"v":-0.03},{"t":242.6,"v":0.03},{"t":242.9,"v":-0.015},{"t":243.2,"v":0.025},{"t":243.5,"v":-0.03},{"t":243.8,"v":0.02},{"t":244.1,"v":-0.02},{"t":244.3,"v":0.05},{"t":244.6,"v":-0.04},{"t":244.9,"v":0.015},{"t":245.2,"v":-0.01},{"t":245.5,"v":0.012},{"t":245.8,"v":-0.015},{"t":246.1,"v":0.02},{"t":246.4,"v":-0.008},{"t":246.7,"v":0.01},{"t":247,"v":-0.02},{"t":247.3,"v":0.015},{"t":247.6,"v":-0.005},{"t":247.9,"v":0.008},{"t":248.2,"v":-0.012},{"t":248.5,"v":0.025},{"t":248.8,"v":-0.01},{"t":249.1,"v":0.006},{"t":249.4,"v":-0.015},{"t":249.7,"v":0.01},{"t":250,"v":-0.004},{"t":250.4,"v":0.008},{"t":250.8,"v":-0.01},{"t":251.2,"v":0.005},{"t":251.6,"v":-0.006},{"t":252,"v":0.035},{"t":252.3,"v":-0.008},{"t":252.6,"v":0.012},{"t":252.9,"v":-0.015},{"t":253.2,"v":0.025},{"t":253.5,"v":-0.01},{"t":253.8,"v":0.015},{"t":254.1,"v":-0.02},{"t":254.4,"v":0.012},{"t":254.7,"v":-0.012},{"t":255,"v":0.008},{"t":255.3,"v":-0.015},{"t":255.6,"v":0.02},{"t":255.9,"v":-0.005},{"t":256.2,"v":0.01},{"t":256.5,"v":-0.012},{"t":256.8,"v":0.025},{"t":257.1,"v":-0.01},{"t":257.4,"v":0.005},{"t":257.8,"v":-0.006},{"t":258.2,"v":0.003},{"t":258.6,"v":0},{"t":260,"v":0},{"t":260.3,"v":0.003},{"t":260.6,"v":-0.002},{"t":261,"v":0},{"t":262.5,"v":0},{"t":262.8,"v":0.004},{"t":263.1,"v":0},{"t":264.5,"v":0},{"t":264.8,"v":-0.003},{"t":265.1,"v":0.002},{"t":265.5,"v":0},{"t":267,"v":0},{"t":267.3,"v":0.003},{"t":267.6,"v":-0.002},{"t":268,"v":0},{"t":269.5,"v":0},{"t":269.8,"v":0.003},{"t":270.1,"v":-0.003},{"t":270.5,"v":0},{"t":272.5,"v":0}],
"d": [{"t":0,"v":0.02},{"t":0.3,"v":-0.02},{"t":0.6,"v":0.015},{"t":0.9,"v":-0.01},{"t":1.2,"v":0.012},{"t":1.5,"v":-0.018},{"t":1.8,"v":0.01},{"t":2.1,"v":-0.005},{"t":2.4,"v":0.008},{"t":2.7,"v":-0.015},{"t":3,"v":0.02},{"t":3.3,"v":-0.01},{"t":3.6,"v":0.005},{"t":3.9,"v":0.035},{"t":4.2,"v":-0.035},{"t":4.5,"v":0.015},{"t":4.8,"v":-0.01},{"t":5.1,"v":0.02},{"t":5.4,"v":-0.015},{"t":5.7,"v":0.005},{"t":6,"v":-0.005},{"t":6.4,"v":0.01},{"t":6.8,"v":-0.012},{"t":7.3,"v":0.045},{"t":7.6,"v":-0.02},{"t":7.9,"v":0.01},{"t":8.2,"v":-0.005},{"t":8.5,"v":0.02},{"t":8.8,"v":-0.025},{"t":9.1,"v":0.015},{"t":9.4,"v":-0.008},{"t":9.7,"v":0.025},{"t":10,"v":-0.015},{"t":10.3,"v":0.01},{"t":10.6,"v":-0.02},{"t":10.9,"v":0.018},{"t":11.2,"v":-0.006},{"t":11.5,"v":0.012},{"t":11.8,"v":-0.01},{"t":12.1,"v":0.008},{"t":12.4,"v":-0.005},{"t":12.7,"v":0.015},{"t":13,"v":-0.012},{"t":13.3,"v":0.005},{"t":13.6,"v":-0.004},{"t":14,"v":0.012},{"t":14.4,"v":-0.008},{"t":14.8,"v":0.02},{"t":15.1,"v":-0.01},{"t":15.4,"v":0.025},{"t":15.7,"v":-0.015},{"t":16,"v":0.01},{"t":16.3,"v":-0.005},{"t":16.6,"v":0.018},{"t":17,"v":-0.02},{"t":17.3,"v":0.032},{"t":17.6,"v":-0.015},{"t":18.1,"v":-0.03},{"t":18.4,"v":0.01},{"t":18.7,"v":-0.008},{"t":19,"v":0.004},{"t":19.4,"v":-0.006},{"t":19.8,"v":0.003},{"t":20.2,"v":-0.01},{"t":20.6,"v":0.012},{"t":21,"v":-0.004},{"t":21.4,"v":0.015},{"t":21.7,"v":-0.008},{"t":22,"v":0.005},{"t":22.4,"v":-0.012},{"t":22.8,"v":0.02},{"t":23.1,"v":-0.006},{"t":23.4,"v":0.015},{"t":23.7,"v":-0.01},{"t":24,"v":0.018},{"t":24.3,"v":-0.012},{"t":24.7,"v":0.02},{"t":25,"v":-0.01},{"t":25.3,"v":0},{"t":32,"v":0},{"t":32.3,"v":0.01},{"t":32.6,"v":0.004},{"t":32.9,"v":-0.004},{"t":33.2,"v":0.008},{"t":33.5,"v":-0.012},{"t":33.8,"v":0.02},{"t":34.1,"v":-0.025},{"t":34.4,"v":0.015},{"t":34.8,"v":0.052},{"t":35.1,"v":-0.03},{"t":35.4,"v":0.035},{"t":35.7,"v":-0.02},{"t":36,"v":0.03},{"t":36.3,"v":-0.035},{"t":36.6,"v":0.025},{"t":36.9,"v":-0.015},{"t":37.2,"v":0.035},{"t":37.5,"v":-0.03},{"t":37.8,"v":0.02},{"t":38.1,"v":-0.04},{"t":38.4,"v":0.03},{"t":38.7,"v":-0.02},{"t":39,"v":0.035},{"t":39.3,"v":-0.025},{"t":39.6,"v":-0.05},{"t":40,"v":0.055},{"t":40.3,"v":-0.03},{"t":40.6,"v":0.02},{"t":40.9,"v":-0.035},{"t":41.2,"v":0.03},{"t":41.5,"v":-0.015},{"t":41.8,"v":0.035},{"t":42.1,"v":-0.04},{"t":42.4,"v":0.025},{"t":42.7,"v":-0.025},{"t":43,"v":0.04},{"t":43.3,"v":-0.03},{"t":43.6,"v":0.015},{"t":43.9,"v":-0.035},{"t":44.2,"v":0.03},{"t":44.6,"v":-0.063},{"t":44.9,"v":0.056},{"t":45.2,"v":-0.02},{"t":45.5,"v":0.03},{"t":45.8,"v":-0.04},{"t":46.1,"v":0.025},{"t":46.4,"v":-0.015},{"t":46.7,"v":0.035},{"t":47,"v":-0.03},{"t":47.3,"v":0.02},{"t":47.6,"v":-0.035},{"t":48.1,"v":-0.05},{"t":48.4,"v":0.04},{"t":48.7,"v":-0.02},{"t":49,"v":0.03},{"t":49.3,"v":-0.04},{"t":49.6,"v":0.035},{"t":49.9,"v":-0.025},{"t":50.2,"v":0.02},{"t":50.5,"v":-0.035},{"t":50.8,"v":0.045},{"t":51.1,"v":-0.03},{"t":51.4,"v":0.025},{"t":51.7,"v":-0.045},{"t":52,"v":0.04},{"t":52.3,"v":-0.02},{"t":52.6,"v":0.05},{"t":52.9,"v":-0.04},{"t":53.2,"v":0.03},{"t":53.5,"v":-0.025},{"t":53.8,"v":0.045},{"t":54.1,"v":-0.045},{"t":54.4,"v":0.02},{"t":54.7,"v":-0.03},{"t":55,"v":0.04},{"t":55.3,"v":-0.035},{"t":55.6,"v":0.025},{"t":55.9,"v":-0.02},{"t":56.2,"v":0.03},{"t":56.5,"v":-0.03},{"t":56.8,"v":0.015},{"t":57.1,"v":-0.015},{"t":57.4,"v":0.01},{"t":57.7,"v":-0.005},{"t":58,"v":0.004},{"t":58.3,"v":0},{"t":59.4,"v":0},{"t":59.6,"v":-0.015},{"t":59.8,"v":0},{"t":61.6,"v":0},{"t":62,"v":0.01},{"t":62.5,"v":-0.02},{"t":62.8,"v":0.05},{"t":63.1,"v":-0.03},{"t":63.4,"v":0.035},{"t":63.7,"v":-0.04},{"t":64,"v":0.03},{"t":64.3,"v":-0.035},{"t":64.6,"v":0.025},{"t":64.9,"v":-0.045},{"t":65.2,"v":0.04},{"t":65.5,"v":-0.02},{"t":65.7,"v":-0.055},{"t":66,"v":0.052},{"t":66.3,"v":-0.035},{"t":66.6,"v":0.03},{"t":66.9,"v":-0.02},{"t":67.2,"v":0.015},{"t":67.5,"v":-0.01},{"t":67.8,"v":0.005},{"t":68.1,"v":0},{"t":69.5,"v":0},{"t":69.8,"v":0.015},{"t":70,"v":0},{"t":71.3,"v":0},{"t":71.5,"v":0.01},{"t":71.7,"v":0},{"t":73,"v":0},{"t":73.3,"v":0.03},{"t":73.6,"v":-0.02},{"t":73.9,"v":0.04},{"t":74.2,"v":-0.035},{"t":74.6,"v":0.025},{"t":75,"v":0.072},{"t":75.3,"v":-0.03},{"t":75.6,"v":-0.065},{"t":75.9,"v":0.035},{"t":76.2,"v":-0.025},{"t":76.5,"v":0.03},{"t":76.8,"v":-0.04},{"t":77.1,"v":0.045},{"t":77.4,"v":-0.03},{"t":77.7,"v":0.02},{"t":78,"v":-0.045},{"t":78.4,"v":0.095},{"t":78.7,"v":-0.05},{"t":79,"v":0.03},{"t":79.3,"v":-0.02},{"t":79.6,"v":0.035},{"t":79.9,"v":-0.03},{"t":80.2,"v":0.02},{"t":80.5,"v":-0.015},{"t":80.8,"v":0.025},{"t":81.1,"v":-0.035},{"t":81.4,"v":0.02},{"t":81.7,"v":-0.01},{"t":82,"v":0.03},{"t":82.3,"v":-0.02},{"t":82.6,"v":0.015},{"t":82.9,"v":-0.025},{"t":83.2,"v":0.035},{"t":83.5,"v":-0.02},{"t":83.8,"v":0.01},{"t":84.1,"v":-0.03},{"t":84.4,"v":0.025},{"t":84.7,"v":-0.015},{"t":85,"v":0.03},{"t":85.3,"v":-0.035},{"t":85.6,"v":0.02},{"t":85.9,"v":-0.01},{"t":86.2,"v":0.04},{"t":86.5,"v":-0.025},{"t":86.8,"v":0.015},{"t":87.1,"v":-0.02},{"t":87.4,"v":0.03},{"t":87.7,"v":-0.03},{"t":88,"v":0.02},{"t":88.3,"v":-0.015},{"t":88.6,"v":0.035},{"t":88.9,"v":-0.04},{"t":89.2,"v":0.025},{"t":89.5,"v":-0.01},{"t":89.8,"v":0.03},{"t":90.1,"v":-0.025},{"t":90.4,"v":0.015},{"t":90.7,"v":-0.03},{"t":91,"v":0.035},{"t":91.3,"v":-0.02},{"t":91.6,"v":0.02},{"t":91.9,"v":-0.035},{"t":92.2,"v":0.03},{"t":92.5,"v":-0.015},{"t":92.8,"v":0.04},{"t":93.1,"v":-0.03},{"t":93.4,"v":0.02},{"t":93.7,"v":-0.025},{"t":94,"v":0.03},{"t":94.3,"v":-0.02},{"t":94.6,"v":0.015},{"t":94.9,"v":-0.04},{"t":95.2,"v":0.035},{"t":95.5,"v":-0.02},{"t":95.8,"v":0.025},{"t":96.1,"v":-0.03},{"t":96.4,"v":0.04},{"t":96.7,"v":-0.025},{"t":97,"v":0.02},{"t":97.3,"v":-0.045},{"t":97.6,"v":0.03},{"t":97.9,"v":-0.015},{"t":98.2,"v":0.05},{"t":98.5,"v":-0.03},{"t":98.8,"v":0.02},{"t":99.1,"v":-0.035},{"t":99.4,"v":0.03},{"t":99.7,"v":-0.02},{"t":100,"v":-0.055},{"t":100.3,"v":0.04},{"t":100.6,"v":-0.025},{"t":100.9,"v":0.03},{"t":101.4,"v":0.067},{"t":101.7,"v":-0.03},{"t":102,"v":0.025},{"t":102.3,"v":-0.045},{"t":102.6,"v":0.035},{"t":102.9,"v":-0.02},{"t":103.2,"v":0.05},{"t":103.5,"v":-0.035},{"t":103.8,"v":0.02},{"t":104.1,"v":-0.03},{"t":104.4,"v":0.045},{"t":104.7,"v":-0.04},{"t":105,"v":0.03},{"t":105.3,"v":-0.02},{"t":105.6,"v":0.035},{"t":105.9,"v":-0.045},{"t":106.2,"v":0.025},{"t":106.5,"v":-0.015},{"t":106.8,"v":0.05},{"t":107.1,"v":-0.035},{"t":107.4,"v":0.03},{"t":107.7,"v":-0.025},{"t":108,"v":0.045},{"t":108.3,"v":-0.04},{"t":108.6,"v":0.02},{"t":108.9,"v":-0.03},{"t":109.2,"v":0.055},{"t":109.5,"v":-0.02},{"t":109.8,"v":0.03},{"t":110.1,"v":-0.04},{"t":110.4,"v":0.025},{"t":110.7,"v":-0.015},{"t":111,"v":0.04},{"t":111.3,"v":-0.03},{"t":111.6,"v":0.02},{"t":111.9,"v":-0.035},{"t":112.2,"v":0.03},{"t":112.5,"v":-0.02},{"t":112.8,"v":0.055},{"t":113.1,"v":-0.045},{"t":113.4,"v":0.025},{"t":113.7,"v":-0.025},{"t":114,"v":0.035},{"t":114.3,"v":-0.03},{"t":114.6,"v":0.02},{"t":114.9,"v":-0.04},{"t":115.2,"v":0.04},{"t":115.5,"v":-0.02},{"t":115.8,"v":0.025},{"t":116.1,"v":-0.035},{"t":116.4,"v":0.03},{"t":116.7,"v":-0.015},{"t":117,"v":0.045},{"t":117.3,"v":-0.03},{"t":117.6,"v":0.02},{"t":117.9,"v":-0.045},{"t":118.2,"v":0.035},{"t":118.5,"v":-0.02},{"t":118.8,"v":0.03},{"t":119.1,"v":0.06},{"t":119.4,"v":-0.03},{"t":119.7,"v":0.02},{"t":120,"v":-0.055},{"t":120.3,"v":0.04},{"t":120.6,"v":-0.025},{"t":120.9,"v":0.03},{"t":121.2,"v":-0.035},{"t":121.5,"v":0.05},{"t":121.8,"v":-0.02},{"t":122.1,"v":0.025},{"t":122.4,"v":-0.03},{"t":122.7,"v":0.035},{"t":123,"v":-0.04},{"t":123.3,"v":0.02},{"t":123.6,"v":-0.015},{"t":123.9,"v":0.03},{"t":124.2,"v":-0.025},{"t":124.5,"v":0.015},{"t":124.8,"v":-0.01},{"t":125.1,"v":0.02},{"t":125.4,"v":-0.03},{"t":125.7,"v":0.015},{"t":126,"v":-0.02},{"t":126.3,"v":0.04},{"t":126.6,"v":-0.045},{"t":126.9,"v":0.035},{"t":127.2,"v":-0.02},{"t":127.5,"v":0.03},{"t":127.8,"v":-0.04},{"t":128.1,"v":0.02},{"t":128.4,"v":-0.03},{"t":128.7,"v":0.035},{"t":129,"v":-0.05},{"t":129.3,"v":0.03},{"t":129.6,"v":-0.02},{"t":129.9,"v":0.035},{"t":130.2,"v":-0.025},{"t":130.6,"v":0.095},{"t":131,"v":-0.02},{"t":131.5,"v":-0.125},{"t":131.8,"v":0.01},{"t":132.1,"v":0.015},{"t":132.4,"v":-0.01},{"t":132.7,"v":0.012},{"t":133,"v":-0.015},{"t":133.3,"v":0.008},{"t":133.6,"v":-0.012},{"t":133.9,"v":0.01},{"t":134.2,"v":-0.02},{"t":134.5,"v":0.015},{"t":134.8,"v":-0.008},{"t":135.1,"v":0.012},{"t":135.4,"v":-0.018},{"t":135.7,"v":0.02},{"t":136,"v":-0.035},{"t":136.3,"v":0.025},{"t":136.6,"v":-0.02},{"t":136.9,"v":0.03},{"t":137.2,"v":-0.04},{"t":137.5,"v":0.035},{"t":137.8,"v":-0.03},{"t":138.3,"v":0.069},{"t":138.6,"v":-0.038},{"t":138.9,"v":0.04},{"t":139.2,"v":-0.02},{"t":139.5,"v":0.03},{"t":139.8,"v":-0.025},{"t":140.1,"v":0.015},{"t":140.4,"v":-0.02},{"t":140.7,"v":0.025},{"t":141,"v":-0.015},{"t":141.3,"v":0.01},{"t":141.6,"v":-0.025},{"t":141.9,"v":0.02},{"t":142.2,"v":-0.01},{"t":142.5,"v":0.03},{"t":142.8,"v":-0.012},{"t":143.1,"v":0.008},{"t":143.4,"v":-0.02},{"t":143.7,"v":0.015},{"t":144,"v":-0.005},{"t":144.3,"v":0.01},{"t":144.6,"v":-0.015},{"t":144.9,"v":0.02},{"t":145.2,"v":-0.008},{"t":145.5,"v":0.005},{"t":145.8,"v":-0.01},{"t":146.1,"v":0.012},{"t":146.4,"v":-0.004},{"t":146.7,"v":0.008},{"t":147,"v":-0.012},{"t":147.3,"v":0.015},{"t":147.6,"v":-0.006},{"t":147.9,"v":0.01},{"t":148.2,"v":-0.008},{"t":148.5,"v":0.004},{"t":148.8,"v":-0.003},{"t":149.1,"v":0.006},{"t":149.4,"v":-0.005},{"t":149.7,"v":0.012},{"t":150,"v":-0.015},{"t":150.3,"v":0.025},{"t":150.6,"v":-0.02},{"t":150.9,"v":0.01},{"t":151.2,"v":-0.035},{"t":151.5,"v":0.02},{"t":151.8,"v":-0.015},{"t":152.1,"v":0.03},{"t":152.4,"v":-0.025},{"t":152.7,"v":0.015},{"t":153,"v":-0.01},{"t":153.3,"v":0.025},{"t":153.6,"v":-0.03},{"t":153.9,"v":0.02},{"t":154.2,"v":-0.012},{"t":154.5,"v":0.03},{"t":154.8,"v":-0.025},{"t":155.1,"v":0.012},{"t":155.4,"v":-0.02},{"t":155.7,"v":0.035},{"t":156,"v":-0.03},{"t":156.3,"v":0.02},{"t":156.6,"v":-0.01},{"t":156.9,"v":0.025},{"t":157.2,"v":-0.035},{"t":157.5,"v":0.03},{"t":157.8,"v":-0.02},{"t":158.1,"v":0.015},{"t":158.4,"v":-0.025},{"t":158.7,"v":0.035},{"t":159,"v":-0.015},{"t":159.3,"v":0.02},{"t":159.6,"v":-0.03},{"t":159.9,"v":0.025},{"t":160.2,"v":-0.012},{"t":160.5,"v":0.03},{"t":160.8,"v":-0.02},{"t":161.1,"v":0.015},{"t":161.4,"v":-0.025},{"t":161.7,"v":0.02},{"t":162,"v":-0.01},{"t":162.3,"v":0.028},{"t":162.6,"v":-0.03},{"t":162.9,"v":0.02},{"t":163.2,"v":-0.015},{"t":163.5,"v":0.035},{"t":163.8,"v":-0.025},{"t":164.1,"v":0.012},{"t":164.4,"v":-0.02},{"t":164.7,"v":0.025},{"t":165,"v":-0.03},{"t":165.3,"v":0.02},{"t":165.6,"v":-0.01},{"t":165.9,"v":0.03},{"t":166.2,"v":-0.025},{"t":166.5,"v":0.015},{"t":166.8,"v":-0.02},{"t":167.1,"v":0.03},{"t":167.4,"v":-0.015},{"t":167.9,"v":-0.048},{"t":168.2,"v":0.02},{"t":168.5,"v":-0.01},{"t":168.8,"v":0.043},{"t":169.1,"v":-0.02},{"t":169.4,"v":0.025},{"t":169.7,"v":-0.03},{"t":170,"v":0.02},{"t":170.3,"v":-0.015},{"t":170.6,"v":0.03},{"t":170.9,"v":-0.025},{"t":171.2,"v":0.015},{"t":171.5,"v":-0.02},{"t":171.8,"v":0.025},{"t":172.1,"v":-0.03},{"t":172.4,"v":0.02},{"t":172.7,"v":-0.01},{"t":173,"v":0.035},{"t":173.3,"v":-0.04},{"t":173.6,"v":0.02},{"t":173.9,"v":-0.015},{"t":174.2,"v":0.025},{"t":174.5,"v":-0.02},{"t":174.8,"v":0.04},{"t":175.1,"v":-0.035},{"t":175.4,"v":0.03},{"t":175.7,"v":-0.015},{"t":176,"v":0.02},{"t":176.3,"v":-0.03},{"t":176.6,"v":0.035},{"t":176.9,"v":-0.02},{"t":177.2,"v":0.025},{"t":177.5,"v":-0.035},{"t":177.8,"v":0.03},{"t":178.1,"v":-0.015},{"t":178.4,"v":0.02},{"t":178.7,"v":-0.025},{"t":179,"v":0.035},{"t":179.3,"v":-0.02},{"t":179.6,"v":0.015},{"t":179.9,"v":-0.03},{"t":180.2,"v":0.03},{"t":180.5,"v":-0.02},{"t":180.8,"v":0.025},{"t":181.1,"v":-0.035},{"t":181.4,"v":0.03},{"t":181.7,"v":-0.015},{"t":182,"v":0.035},{"t":182.3,"v":-0.03},{"t":182.6,"v":0.02},{"t":182.9,"v":-0.025},{"t":183.2,"v":0.03},{"t":183.5,"v":-0.035},{"t":183.8,"v":0.025},{"t":184.1,"v":-0.01},{"t":184.4,"v":0.035},{"t":184.7,"v":-0.03},{"t":185,"v":0.02},{"t":185.3,"v":-0.02},{"t":185.6,"v":0.03},{"t":185.9,"v":-0.035},{"t":186.2,"v":0.025},{"t":186.5,"v":-0.015},{"t":186.8,"v":0.03},{"t":187.1,"v":-0.025},{"t":187.4,"v":0.035},{"t":187.7,"v":-0.03},{"t":188,"v":0.015},{"t":188.3,"v":-0.02},{"t":188.6,"v":0.03},{"t":188.9,"v":-0.035},{"t":189.2,"v":0.025},{"t":189.5,"v":-0.015},{"t":189.8,"v":0.03},{"t":190.1,"v":-0.03},{"t":190.4,"v":0.02},{"t":190.7,"v":-0.025},{"t":191,"v":0.035},{"t":191.3,"v":-0.02},{"t":191.6,"v":0.025},{"t":191.9,"v":-0.03},{"t":192.2,"v":0.02},{"t":192.5,"v":-0.015},{"t":192.8,"v":0.03},{"t":193.1,"v":-0.025},{"t":193.4,"v":0.02},{"t":193.7,"v":-0.03},{"t":194,"v":0.025},{"t":194.3,"v":-0.01},{"t":194.6,"v":0.03},{"t":194.9,"v":-0.025},{"t":195.2,"v":0.02},{"t":195.5,"v":-0.02},{"t":195.8,"v":0.04},{"t":196.1,"v":-0.045},{"t":196.4,"v":0.02},{"t":196.7,"v":-0.015},{"t":197,"v":0.025},{"t":197.3,"v":-0.02},{"t":197.6,"v":0.015},{"t":197.9,"v":-0.01},{"t":198.2,"v":0.02},{"t":198.5,"v":-0.015},{"t":198.8,"v":0.01},{"t":199.1,"v":-0.02},{"t":199.4,"v":0.008},{"t":199.7,"v":-0.01},{"t":200,"v":0.006},{"t":200.3,"v":-0.008},{"t":200.6,"v":0.004},{"t":200.9,"v":-0.005},{"t":201.3,"v":0.002},{"t":201.7,"v":0},{"t":203.8,"v":0},{"t":204,"v":0.01},{"t":204.2,"v":-0.01},{"t":204.4,"v":0},{"t":211.5,"v":0},{"t":211.8,"v":0.015},{"t":212.1,"v":-0.01},{"t":212.4,"v":0.02},{"t":212.7,"v":-0.015},{"t":213,"v":0.01},{"t":213.3,"v":-0.005},{"t":213.6,"v":0.012},{"t":213.9,"v":-0.012},{"t":214.2,"v":0.006},{"t":214.5,"v":-0.008},{"t":214.8,"v":0.015},{"t":215.1,"v":-0.01},{"t":215.4,"v":0.004},{"t":215.7,"v":-0.005},{"t":216,"v":0.01},{"t":216.3,"v":-0.015},{"t":216.6,"v":0.018},{"t":216.9,"v":-0.006},{"t":217.2,"v":0.004},{"t":217.5,"v":-0.01},{"t":217.8,"v":0.012},{"t":218.1,"v":-0.004},{"t":218.4,"v":0.006},{"t":218.7,"v":-0.008},{"t":219,"v":0.015},{"t":219.3,"v":-0.012},{"t":219.6,"v":0.008},{"t":219.9,"v":-0.005},{"t":220.2,"v":0.012},{"t":220.5,"v":-0.015},{"t":220.8,"v":0.01},{"t":221.1,"v":-0.006},{"t":221.4,"v":0.012},{"t":221.7,"v":-0.008},{"t":222,"v":0.005},{"t":222.3,"v":-0.01},{"t":222.6,"v":0.015},{"t":222.9,"v":-0.012},{"t":223.2,"v":0.008},{"t":223.5,"v":-0.004},{"t":223.8,"v":0.01},{"t":224.1,"v":-0.008},{"t":224.4,"v":0.012},{"t":224.7,"v":-0.01},{"t":225,"v":0.006},{"t":225.3,"v":-0.015},{"t":225.6,"v":0.01},{"t":226,"v":-0.03},{"t":226.3,"v":0.048},{"t":226.6,"v":-0.035},{"t":226.9,"v":0.02},{"t":227.2,"v":-0.025},{"t":227.5,"v":0.03},{"t":227.8,"v":-0.02},{"t":228.1,"v":0.025},{"t":228.4,"v":-0.03},{"t":228.7,"v":0.02},{"t":229,"v":-0.015},{"t":229.3,"v":0.03},{"t":229.6,"v":-0.025},{"t":229.9,"v":0.02},{"t":230.2,"v":-0.02},{"t":230.5,"v":0.025},{"t":230.8,"v":-0.03},{"t":231.1,"v":0.02},{"t":231.4,"v":-0.01},{"t":231.7,"v":0.03},{"t":232,"v":-0.025},{"t":232.3,"v":0.015},{"t":232.6,"v":-0.02},{"t":232.9,"v":0.03},{"t":233.2,"v":-0.025},{"t":233.5,"v":0.02},{"t":233.8,"v":-0.015},{"t":234.1,"v":0.025},{"t":234.4,"v":-0.02},{"t":234.7,"v":0.015},{"t":235,"v":-0.025},{"t":235.3,"v":0.02},{"t":235.6,"v":-0.01},{"t":235.9,"v":0.025},{"t":236.2,"v":-0.015},{"t":236.5,"v":0.01},{"t":236.8,"v":-0.02},{"t":237.1,"v":0.015},{"t":237.4,"v":-0.01},{"t":237.7,"v":0.008},{"t":238,"v":-0.005},{"t":238.4,"v":0.012},{"t":238.8,"v":-0.008},{"t":239.2,"v":0.005},{"t":239.6,"v":-0.004},{"t":240,"v":0.006},{"t":240.4,"v":-0.003},{"t":240.8,"v":0.004},{"t":241.2,"v":-0.002},{"t":241.6,"v":0.004},{"t":242,"v":-0.004},{"t":242.4,"v":0.003},{"t":242.8,"v":-0.002},{"t":243.2,"v":0.003},{"t":243.6,"v":-0.003},{"t":244,"v":0.002},{"t":244.4,"v":0.004},{"t":244.8,"v":-0.002},{"t":245.2,"v":0.002},{"t":245.5,"v":0.035},{"t":245.8,"v":-0.028},{"t":246.1,"v":0},{"t":246.5,"v":0.002},{"t":247,"v":0},{"t":247.4,"v":-0.008},{"t":247.7,"v":0},{"t":248,"v":0.004},{"t":248.3,"v":-0.003},{"t":248.6,"v":0},{"t":249,"v":-0.006},{"t":249.3,"v":0},{"t":249.6,"v":0.005},{"t":249.9,"v":-0.004},{"t":250.2,"v":0},{"t":250.6,"v":0.004},{"t":250.9,"v":-0.005},{"t":251.2,"v":0.004},{"t":251.6,"v":0},{"t":252,"v":-0.003},{"t":252.4,"v":0.003},{"t":252.8,"v":0},{"t":253.4,"v":0.002},{"t":253.8,"v":-0.001},{"t":254.5,"v":0},{"t":258.4,"v":0}]
},
"vconcat": [
{
 "width": 1125, "height": 159,
 "title": {"text": "WM Condition Data", "frame": "group", "offset": -47, "baseline": "alphabetic", "dx": -13},
 "data": {"name": "a"},
 "layer": [
  {"mark": {"type": "line", "color": "black", "strokeWidth": 1.4, "clip": true},
   "encoding": {
    "x": {"field": "t", "type": "quantitative", "scale": {"domain": [0, 272.5], "nice": false, "zero": false},
          "axis": {"orient": "bottom", "values": [0,50,100,150,200,250], "grid": true, "labelFlush": false, "labelPadding": 21, "title": "Time (s)", "titleX": 1073, "titleY": 19, "titleAlign": "left", "titleBaseline": "alphabetic", "titleFontSize": 21}},
    "y": {"field": "v", "type": "quantitative", "scale": {"domain": [188, 1686], "nice": false, "zero": false},
          "axis": {"orient": "left", "values": [500,1000,1500], "format": "d", "grid": true, "labelPadding": 14, "title": ["Median", "Height (mm)"], "titleX": -96, "titleY": 80, "titleAngle": -90, "titleBaseline": "top", "titleAlign": "center", "titleLineHeight": 24, "titleFontSize": 21}}
   }},
  {"mark": {"type": "line", "strokeOpacity": 0, "clip": true},
   "encoding": {
    "x": {"field": "t", "type": "quantitative", "scale": {"domain": [0, 272.5], "nice": false, "zero": false},
          "axis": {"orient": "top", "values": [0,50,100,150,200,250], "grid": false, "labels": false, "title": "(fs = 20 Hz)", "titleX": 1116, "titleY": -13, "titleAlign": "right", "titleBaseline": "alphabetic", "titleFontSize": 23, "titleAngle": 0}},
    "y": {"field": "v", "type": "quantitative", "scale": {"domain": [188, 1686], "nice": false, "zero": false},
          "axis": {"orient": "right", "values": [500,1000,1500], "grid": false, "labels": false, "title": "(a)", "titleX": 30, "titleY": 72, "titleAngle": 0, "titleAlign": "center", "titleBaseline": "middle", "titleFontSize": 21}}
   }}
 ],
 "resolve": {"axis": {"x": "independent", "y": "independent"}}
},
{
 "width": 1125, "height": 160,
 "title": {"text": "NM Condition Data", "frame": "group", "offset": -16, "baseline": "alphabetic", "dx": -13},
 "data": {"name": "b"},
 "layer": [
  {"mark": {"type": "line", "color": "black", "strokeWidth": 1.4, "clip": true},
   "encoding": {
    "x": {"field": "t", "type": "quantitative", "scale": {"domain": [0, 272.5], "nice": false, "zero": false},
          "axis": {"orient": "bottom", "values": [0,50,100,150,200,250], "grid": true, "labelFlush": false, "labelPadding": 21, "title": "Time (s)", "titleX": 1073, "titleY": 19, "titleAlign": "left", "titleBaseline": "alphabetic", "titleFontSize": 21}},
    "y": {"field": "v", "type": "quantitative", "scale": {"domain": [180, 1690], "nice": false, "zero": false},
          "axis": {"orient": "left", "values": [500,1000,1500], "format": "d", "grid": true, "labelPadding": 14, "title": ["Median", "Height (mm)"], "titleX": -96, "titleY": 80, "titleAngle": -90, "titleBaseline": "top", "titleAlign": "center", "titleLineHeight": 24, "titleFontSize": 21}}
   }},
  {"mark": {"type": "line", "strokeOpacity": 0, "clip": true},
   "encoding": {
    "x": {"field": "t", "type": "quantitative", "scale": {"domain": [0, 272.5], "nice": false, "zero": false},
          "axis": {"orient": "top", "values": [0,50,100,150,200,250], "grid": false, "labels": false, "title": null}},
    "y": {"field": "v", "type": "quantitative", "scale": {"domain": [180, 1690], "nice": false, "zero": false},
          "axis": {"orient": "right", "values": [500,1000,1500], "grid": false, "labels": false, "title": "(b)", "titleX": 30, "titleY": 71, "titleAngle": 0, "titleAlign": "center", "titleBaseline": "middle", "titleFontSize": 21}}
   }}
 ],
 "resolve": {"axis": {"x": "independent", "y": "independent"}}
},
{
 "width": 1125, "height": 160,
 "title": {"text": "WM Series after Transformation", "frame": "group", "offset": -16, "baseline": "alphabetic", "dx": -13},
 "data": {"name": "c"},
 "layer": [
  {"mark": {"type": "line", "color": "black", "strokeWidth": 1.4, "clip": true},
   "encoding": {
    "x": {"field": "t", "type": "quantitative", "scale": {"domain": [0, 272.5], "nice": false, "zero": false},
          "axis": {"orient": "bottom", "values": [0,50,100,150,200,250], "grid": true, "labelFlush": false, "labelPadding": 21, "title": "Time (s)", "titleX": 1073, "titleY": 19, "titleAlign": "left", "titleBaseline": "alphabetic", "titleFontSize": 21}},
    "y": {"field": "v", "type": "quantitative", "scale": {"domain": [-0.113, 0.081], "nice": false, "zero": false},
          "axis": {"orient": "left", "values": [-0.1,-0.05,0,0.05], "format": "~g", "grid": true, "labelPadding": 14, "title": "log(ΔMedian)", "titleX": -78, "titleY": 80, "titleAngle": -90, "titleBaseline": "top", "titleAlign": "center", "titleFontSize": 21}}
   }},
  {"mark": {"type": "line", "strokeOpacity": 0, "clip": true},
   "encoding": {
    "x": {"field": "t", "type": "quantitative", "scale": {"domain": [0, 272.5], "nice": false, "zero": false},
          "axis": {"orient": "top", "values": [0,50,100,150,200,250], "grid": false, "labels": false, "title": null}},
    "y": {"field": "v", "type": "quantitative", "scale": {"domain": [-0.113, 0.081], "nice": false, "zero": false},
          "axis": {"orient": "right", "values": [-0.1,-0.05,0,0.05], "grid": false, "labels": false, "title": "(c)", "titleX": 30, "titleY": 67, "titleAngle": 0, "titleAlign": "center", "titleBaseline": "middle", "titleFontSize": 21}}
   }}
 ],
 "resolve": {"axis": {"x": "independent", "y": "independent"}}
},
{
 "width": 1125, "height": 160,
 "title": {"text": "NM Series after Transformation", "frame": "group", "offset": -16, "baseline": "alphabetic", "dx": -13},
 "data": {"name": "d"},
 "layer": [
  {"mark": {"type": "line", "color": "black", "strokeWidth": 1.4, "clip": true},
   "encoding": {
    "x": {"field": "t", "type": "quantitative", "scale": {"domain": [0, 272.5], "nice": false, "zero": false},
          "axis": {"orient": "bottom", "values": [0,50,100,150,200,250], "grid": true, "labelFlush": false, "labelPadding": 21, "title": "Time (s)", "titleX": 1073, "titleY": 19, "titleAlign": "left", "titleBaseline": "alphabetic", "titleFontSize": 21}},
    "y": {"field": "v", "type": "quantitative", "scale": {"domain": [-0.113, 0.081], "nice": false, "zero": false},
          "axis": {"orient": "left", "values": [-0.1,-0.05,0,0.05], "format": "~g", "grid": true, "labelPadding": 14, "title": "log(Δ Median)", "titleX": -73, "titleY": 78, "titleAngle": -90, "titleBaseline": "top", "titleAlign": "center", "titleFontSize": 21}}
   }},
  {"mark": {"type": "line", "strokeOpacity": 0, "clip": true},
   "encoding": {
    "x": {"field": "t", "type": "quantitative", "scale": {"domain": [0, 272.5], "nice": false, "zero": false},
          "axis": {"orient": "top", "values": [0,50,100,150,200,250], "grid": false, "labels": false, "title": null}},
    "y": {"field": "v", "type": "quantitative", "scale": {"domain": [-0.113, 0.081], "nice": false, "zero": false},
          "axis": {"orient": "right", "values": [-0.1,-0.05,0,0.05], "grid": false, "labels": false, "title": "(d)", "titleX": 30, "titleY": 66, "titleAngle": 0, "titleAlign": "center", "titleBaseline": "middle", "titleFontSize": 21}}
   }}
 ],
 "resolve": {"axis": {"x": "independent", "y": "independent"}}
}
]
}
